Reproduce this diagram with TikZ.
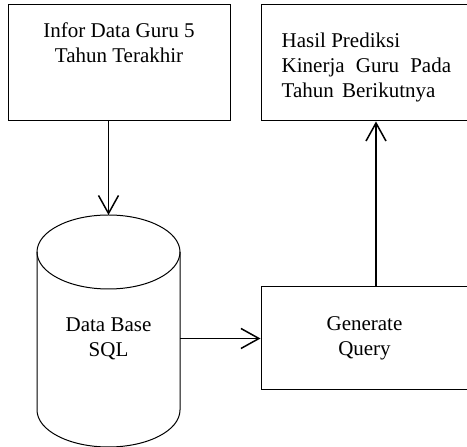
\documentclass[tikz,border=0pt]{standalone}
\usepackage{fontspec}
\setmainfont{Liberation Serif}
\usetikzlibrary{arrows.meta}

\begin{document}
\begin{tikzpicture}[x=1pt,y=1pt,
    box/.style={rectangle,draw=black,line width=1pt},
    dbline/.style={draw=black,line width=1pt},
    txt/.style={inner sep=0pt,font=\rmfamily\fontsize{21}{25}\selectfont},
    flow/.style={line width=1.5pt,-{Straight Barb[length=18pt,width=20pt]}}]
        \useasboundingbox (0,0) rectangle (467,447);
        \node[box,minimum width=222pt,minimum height=116pt] (infor) at (119,384) {};
        \node[txt,align=center,anchor=north] (infortxt) at ([yshift=-18pt]infor.north) {Infor Data Guru 5\\Tahun Terakhir};
        \node[box,minimum width=207pt,minimum height=116pt] (hasil) at (364.5,384) {};
        \node[txt,align=left,anchor=north west] (hasiltxt) at ([xshift=21pt,yshift=-28pt]hasil.north west) {Hasil Prediksi\\Kinerja\hspace{6pt} Guru\hspace{6pt} Pada\\Tahun\hspace{3pt} Berikutnya};
        % data base cylinder
        \draw[dbline] (108.5,195) ellipse[x radius=71.5,y radius=37];
        \draw[dbline] (37,195) -- (37,37) arc[start angle=180,end angle=360,x radius=71.5,y radius=37] -- (180,195);
        \coordinate (sqltop) at (108.5,232);
        \coordinate (sqlright) at (180,108);
        \node[txt,align=center] (sql) at (108.5,108) {Data Base\\SQL};
        \node[box,txt,align=center,minimum width=207pt,minimum height=103pt] (gen) at (364.5,108.5) {Generate\\Query};
        \draw [flow] (infor.south -| sqltop) -- (sqltop);
        \draw [flow] (sqlright |- gen.west) -- (gen.west);
        \draw [flow] ([xshift=11.5pt]gen.north) -- ([xshift=11.5pt]gen.north |- hasil.south);
    \end{tikzpicture}
\end{document}
